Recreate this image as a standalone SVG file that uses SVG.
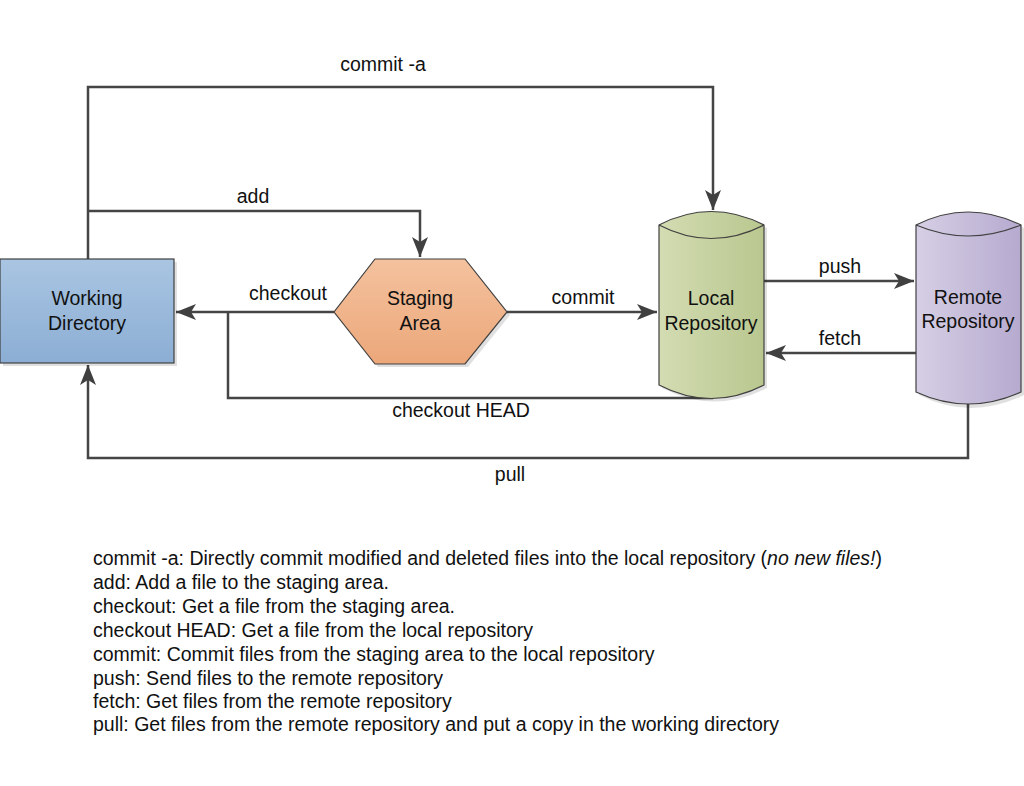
<svg xmlns="http://www.w3.org/2000/svg" width="1024" height="786" viewBox="0 0 1024 786">
<defs>
<linearGradient id="gBlue" x1="0" y1="0" x2="0" y2="1"><stop offset="0" stop-color="#a9c5e2"/><stop offset="1" stop-color="#8caed4"/></linearGradient>
<linearGradient id="gOrange" x1="0" y1="0" x2="0" y2="1"><stop offset="0" stop-color="#f4c29e"/><stop offset="1" stop-color="#eca77a"/></linearGradient>
<linearGradient id="gGreen" x1="0" y1="0" x2="1" y2="0"><stop offset="0" stop-color="#d3dcb2"/><stop offset="1" stop-color="#b9c78f"/></linearGradient>
<linearGradient id="gPurple" x1="0" y1="0" x2="1" y2="0"><stop offset="0" stop-color="#d6cfe5"/><stop offset="1" stop-color="#b6aacf"/></linearGradient>
<marker id="arr" viewBox="0 0 20 16" refX="20" refY="8" markerWidth="20" markerHeight="16" markerUnits="userSpaceOnUse" orient="auto">
<path d="M0,0 L20,8 L0,16 L5,8 Z" fill="#404040"/>
</marker>
</defs>
<style>
.t{font-family:"Liberation Sans",Arial,sans-serif;font-size:19.5px;fill:#111}
.c{stroke:#454545;stroke-width:2.5;fill:none}
.n{stroke:#404040;stroke-width:1.2}
.sh{fill:#000;opacity:0.12}
</style>
<rect width="1024" height="786" fill="#fff"/>

<g id="connectors">
<path class="c" d="M88,259 V87 H713 V210" marker-end="url(#arr)"/>
<path class="c" d="M88,211 H420 V257" marker-end="url(#arr)"/>
<path class="c" d="M334,312 H176" marker-end="url(#arr)"/>
<path class="c" d="M713,398 H228 V312"/>
<path class="c" d="M507,312 H657" marker-end="url(#arr)"/>
<path class="c" d="M764,281 H914" marker-end="url(#arr)"/>
<path class="c" d="M916,353 H766" marker-end="url(#arr)"/>
<path class="c" d="M968,401 V458 H88 V365" marker-end="url(#arr)"/>
<text class="t" x="383" y="71" text-anchor="middle">commit -a</text>
<text class="t" x="253" y="203" text-anchor="middle">add</text>
<text class="t" x="288" y="300" text-anchor="middle">checkout</text>
<text class="t" x="583" y="304" text-anchor="middle">commit</text>
<text class="t" x="840" y="273" text-anchor="middle">push</text>
<text class="t" x="840" y="345" text-anchor="middle">fetch</text>
<text class="t" x="461" y="417" text-anchor="middle">checkout HEAD</text>
<text class="t" x="510" y="481" text-anchor="middle">pull</text>
</g>

<g id="working-directory">
<rect class="sh" x="3" y="262" width="174" height="104"/>
<rect class="n" x="0" y="259" width="174" height="104" fill="url(#gBlue)"/>
<text class="t" x="87" y="305" text-anchor="middle">Working</text>
<text class="t" x="87" y="330" text-anchor="middle">Directory</text>
</g>

<g id="staging-area">
<polygon class="sh" points="378,262 468,262 510,315 468,367 378,367 337,315"/>
<polygon class="n" points="375,259 465,259 507,312 465,364 375,364 334,312" fill="url(#gOrange)"/>
<text class="t" x="420" y="305" text-anchor="middle">Staging</text>
<text class="t" x="420" y="330" text-anchor="middle">Area</text>
</g>

<g id="local-repository">
<path class="sh" d="M662,228 Q714,201 767,228 V388 Q714,415 662,388 Z"/>
<path class="n" d="M659,225 Q711,198 764,225 V385 Q711,412 659,385 Z" fill="url(#gGreen)"/>
<path class="n" d="M659,225 Q711,252 764,225" fill="none"/>
<text class="t" x="711" y="305" text-anchor="middle">Local</text>
<text class="t" x="711" y="330" text-anchor="middle">Repository</text>
</g>

<g id="remote-repository">
<path class="sh" d="M919,228 Q971,201 1024,228 V395 Q971,421 919,395 Z"/>
<path class="n" d="M916,225 Q968,199 1021,225 V392 Q968,416 916,392 Z" fill="url(#gPurple)"/>
<path class="n" d="M916,225 Q968,247 1021,225" fill="none"/>
<text class="t" x="968" y="304" text-anchor="middle">Remote</text>
<text class="t" x="968" y="328" text-anchor="middle">Repository</text>
</g>

<g id="legend">
<text class="t" x="93" y="565">commit -a: Directly commit modified and deleted files into the local repository (<tspan font-style="italic">no new files!</tspan>)</text>
<text class="t" x="93" y="589">add: Add a file to the staging area.</text>
<text class="t" x="93" y="613">checkout: Get a file from the staging area.</text>
<text class="t" x="93" y="637">checkout HEAD: Get a file from the local repository</text>
<text class="t" x="93" y="661">commit: Commit files from the staging area to the local repository</text>
<text class="t" x="93" y="685">push: Send files to the remote repository</text>
<text class="t" x="93" y="708">fetch: Get files from the remote repository</text>
<text class="t" x="93" y="731">pull: Get files from the remote repository and put a copy in the working directory</text>
</g>
</svg>
